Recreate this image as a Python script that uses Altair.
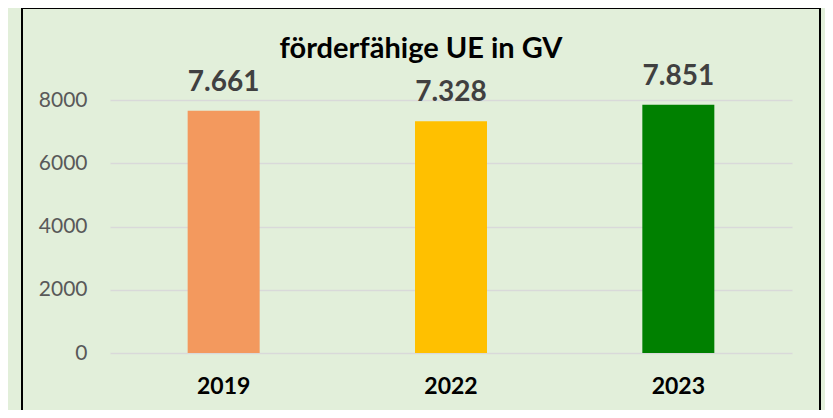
import altair as alt
import pandas as pd

years = ["2019", "2022", "2023"]
values = [7661, 7328, 7851]
colors = ["#F3995E", "#FFC000", "#008000"]
title_text = ["förderfähige UE in GV"]
y_ticks = [0, 2000, 4000, 6000, 8000]

df = pd.DataFrame({"year": years, "value": values, "color": colors})

FONT = "Lato"

x_enc = alt.X("year:N", sort=years, title=None,
              scale=alt.Scale(paddingInner=0, paddingOuter=0),
              axis=alt.Axis(labelAngle=0, labelFont=FONT, labelFontSize=23,
                            labelFontWeight="bold", labelColor="#000000",
                            labelPadding=22, domain=False, ticks=False, grid=False))
y_enc = alt.Y("value:Q", title=None,
              scale=alt.Scale(domain=[0, 8000], nice=False),
              axis=alt.Axis(values=y_ticks, format="d", labelFont=FONT, labelFontSize=21,
                            labelColor="#595959", labelPadding=23, domain=False,
                            ticks=False, grid=True, gridColor="#D9D9D9", gridWidth=1.5))

base = alt.Chart(df)

bars = base.mark_bar(size=72).encode(
    x=x_enc, y=y_enc,
    color=alt.Color("color:N", scale=None),
)

labels = base.transform_calculate(
    label="replace(format(datum.value, ','), ',', '.')"
).mark_text(font=FONT, fontSize=28, fontWeight="bold", color="#404040",
            baseline="alphabetic", dy=-20).encode(
    x=alt.X("year:N", sort=years),
    y=alt.Y("value:Q"),
    text="label:N",
)

title = alt.Chart(pd.DataFrame({"t": title_text})).mark_text(
    font=FONT, fontSize=29, fontWeight="bold", color="#000000",
    align="center", baseline="alphabetic"
).encode(x=alt.value(311), y=alt.value(-42), text="t:N")

border = alt.Chart(pd.DataFrame({"b": [0]})).mark_rect(
    fill=None, stroke="#000000", strokeWidth=2
).encode(
    x=alt.value(-88), x2=alt.value(710), y=alt.value(-92), y2=alt.value(340)
)

chart = alt.layer(bars, labels, title, border).properties(
    width=682, height=253,
    autosize=alt.AutoSizeParams(type="none"),
    padding={"left": 102, "top": 92, "right": 33, "bottom": 57},
    background="#E2EFDA",
).configure_view(stroke=None)

chart.save("out.html", embed_options={"renderer": "svg", "actions": False})
